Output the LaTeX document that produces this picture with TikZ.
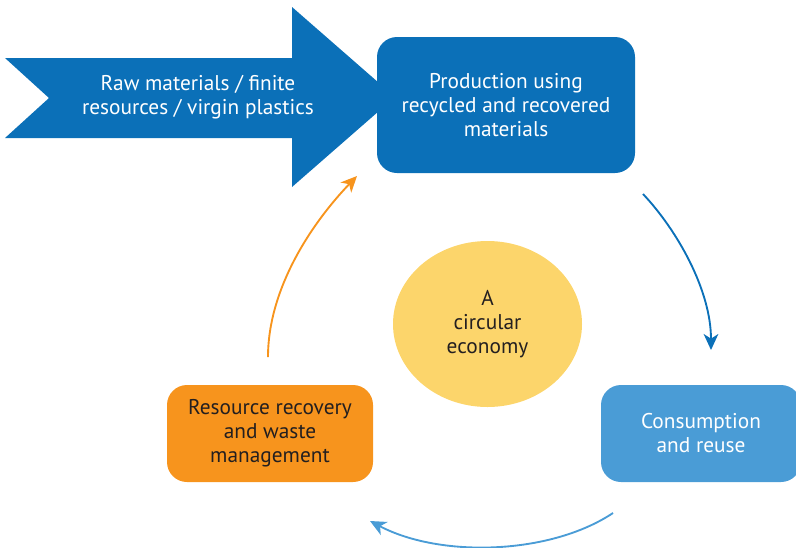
\documentclass[tikz,border=0pt]{standalone}
\usepackage{fontspec}
\setmainfont{PT Sans}
\usetikzlibrary{arrows.meta,shapes.geometric}
\definecolor{prodblue}{HTML}{0B70B8}
\definecolor{useblue}{HTML}{4A9CD6}
\definecolor{wasteorange}{HTML}{F7941D}
\definecolor{coreyellow}{HTML}{FCD56B}
\definecolor{inkgray}{HTML}{231F20}

\begin{document}
\begin{tikzpicture}[
        x=0.75pt, y=-0.75pt,
        font=\fontsize{16}{18}\selectfont,
        box/.style={rounded corners=15pt, align=center, minimum width=154.5pt, minimum height=72.75pt},
        arr/.style={-{Stealth[length=12pt,width=11pt,inset=3.5pt]}, line width=1.4pt}
    ]
        \useasboundingbox (0,0) rectangle (796,547);
        % big input arrow
        \fill[prodblue] (5,58) -- (292,58) -- (292,7) -- (395,97) -- (292,187) -- (292,138) -- (5,138) -- (49,98) -- cycle;
        \node[text=white, align=center] (raw) at (198,97) {Raw materials / finite\\resources / virgin plastics};
        \node[box, fill=prodblue, text=white, minimum width=193.5pt, minimum height=102pt] (prod) at (506,105) {Production using\\recycled and recovered\\materials};
        \node[box, fill=useblue, text=white, minimum width=150pt] (use) at (701,433.5) {Consumption\\and reuse};
        \node[box, fill=wasteorange, text=inkgray] (waste) at (270,433.5) {Resource recovery\\and waste\\management};
        \node[ellipse, fill=coreyellow, text=inkgray, align=center, minimum width=141.75pt, minimum height=124.5pt] (core) at (487.5,324) {A\\circular\\economy};
        % loop arrows
        \coordinate (prodout) at (643,194);
        \coordinate (usein) at (711,350);
        \coordinate (useout) at (613,513);
        \coordinate (wastein) at (370,521);
        \coordinate (wasteout) at (268,357);
        \coordinate (prodin) at (357,176);
        \draw[arr, prodblue] (prodout) .. controls (677,230) and (711,290) .. (usein);
        \draw[arr, useblue] (useout) .. controls (550,555) and (440,558) .. (wastein);
        \draw[arr, wasteorange] (wasteout) .. controls (268,290) and (310,225) .. (prodin);
    \end{tikzpicture}
\end{document}
